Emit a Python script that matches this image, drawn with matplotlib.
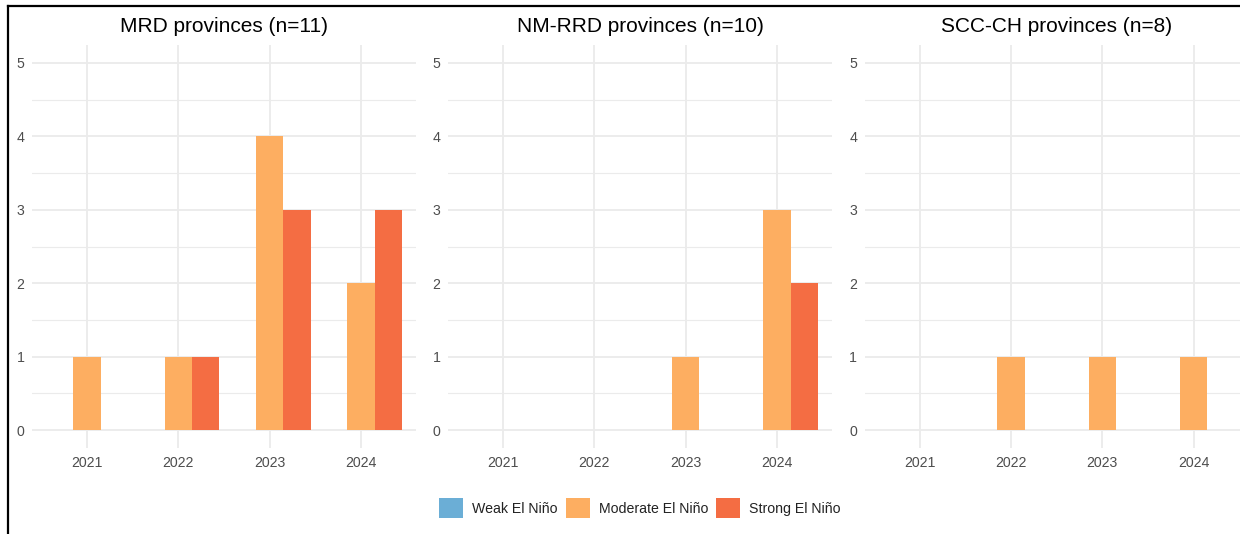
import matplotlib
matplotlib.use("Agg")
import matplotlib.pyplot as plt
from matplotlib.patches import Patch
from matplotlib.lines import Line2D
import numpy as np

plt.rcParams['font.family'] = ['Liberation Sans', 'DejaVu Sans']

years = ["2021", "2022", "2023", "2024"]
categories = ["Weak El Niño", "Moderate El Niño", "Strong El Niño"]
colors = ["#6BAED6", "#FDAE61", "#F46D43"]
panel_titles = ["MRD provinces (n=11)", "NM-RRD provinces (n=10)", "SCC-CH provinces (n=8)"]

mrd_weak = [0, 0, 0, 0]
mrd_moderate = [1, 1, 4, 2]
mrd_strong = [0, 1, 3, 3]

nmrrd_weak = [0, 0, 0, 0]
nmrrd_moderate = [0, 0, 1, 3]
nmrrd_strong = [0, 0, 0, 2]

scc_weak = [0, 0, 0, 0]
scc_moderate = [0, 1, 1, 1]
scc_strong = [0, 0, 0, 0]

panels = [
    [mrd_weak, mrd_moderate, mrd_strong],
    [nmrrd_weak, nmrrd_moderate, nmrrd_strong],
    [scc_weak, scc_moderate, scc_strong],
]

W, H = 1240, 534
fig = plt.figure(figsize=(W / 100, H / 100), dpi=100)

lefts_px = [32.2, 448.2, 864.8]
width_px = 383.6
bottom_px = 448.35
height_px = 403.7

x = np.arange(1, len(years) + 1)
bw = 0.3
for i, (title, series) in enumerate(zip(panel_titles, panels)):
    ax = fig.add_axes([lefts_px[i] / W, (H - bottom_px) / H, width_px / W, height_px / H])
    ax.set_xlim(0.4, 4.6)
    ax.set_ylim(-0.25, 5.25)
    for spine in ax.spines.values():
        spine.set_visible(False)
    ax.set_yticks(range(0, 6))
    ax.set_yticks(np.arange(0.5, 5.0, 1.0), minor=True)
    ax.set_xticks(x)
    ax.set_xticklabels(years)
    ax.grid(True, which='major', color='#EBEBEB', linewidth=1.3)
    ax.grid(True, which='minor', axis='y', color='#EBEBEB', linewidth=0.8)
    ax.set_axisbelow(True)
    ax.tick_params(axis='both', which='both', length=0, labelsize=10.2, labelcolor='#4D4D4D')
    ax.tick_params(axis='x', pad=5.5)
    ax.tick_params(axis='y', pad=5.5)
    for k, vals in enumerate(series):
        ax.bar(x + (k - 1) * bw, vals, width=bw, color=colors[k], linewidth=0)
    ax.set_title(title, fontsize=15, color='black', pad=9)

handles = [Patch(facecolor=c, edgecolor='none') for c in colors]
fig.legend(handles, categories, loc='center', bbox_to_anchor=(640 / W, 1 - 508 / H),
           ncol=3, frameon=False, fontsize=10.2, handlelength=1.7, handleheight=1.7,
           handletextpad=0.63, columnspacing=0.56, labelcolor='#222222')

# black border (top and left)
fig.add_artist(Line2D([7.5 / W, 1.0], [1 - 6 / H, 1 - 6 / H], color='black', linewidth=1.6,
                      transform=fig.transFigure))
fig.add_artist(Line2D([7.5 / W, 7.5 / W], [0, 1 - 6 / H], color='black', linewidth=1.6,
                      transform=fig.transFigure))

fig.savefig("out.png", dpi=100)
